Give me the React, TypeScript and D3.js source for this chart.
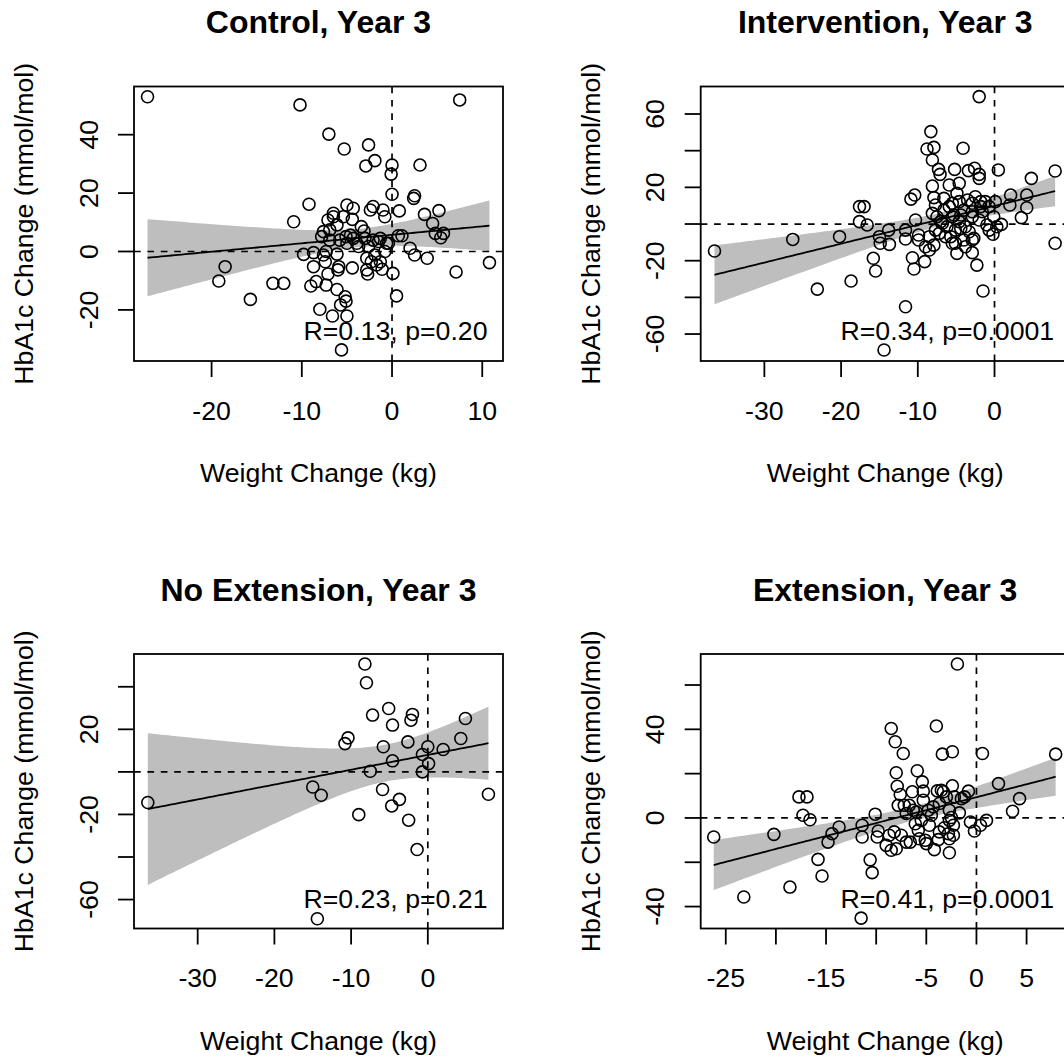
import { useEffect, useRef } from 'react'
import * as d3 from 'd3'

// weight change (kg) vs HbA1c change (mmol/mol)
const controlX = [
  -27.1, -10.2, 7.5, -7.0, -5.3, -2.6, -2.9, -1.9, 0.0, 3.1,
  -0.1, 0.0, 2.4, 2.5, -9.2, -10.9, 5.2, 3.6, 4.5, 4.8,
  5.7, 5.4, 10.8, 7.1, 3.9, 2.5, 2.0, 0.7, 1.1, 0.8,
  0.1, 0.5, -18.5, -19.2, -15.7, -13.2, -12.0, -9.8, -8.7, -8.7,
  -9.0, -8.4, -7.3, -8.0, -6.6, -6.1, -5.2, -5.1, -5.7, -5.0,
  -5.6, -6.0, -5.9, -4.4, -7.1, -7.4, -7.6, -7.3, -2.8, -2.7,
  -2.8, -1.3, -1.1, -1.9, -0.8, -3.7, -2.6, -1.5, -0.6, -3.9,
  -5.0, -4.6, -5.8, -6.9, -7.6, -6.9, -6.1, -7.1, -6.5, -6.5,
  -5.4, -4.4, -5.0, -4.3, -3.4, -3.1, -2.4, -2.1, -1.0, -0.8,
  -3.0, -2.1, -1.3, -0.4, -2.3, -1.7, -5.1, -4.3, -6.1, -7.8
]
const controlY = [
  53.0, 50.2, 51.9, 40.2, 35.1, 36.5, 29.3, 31.1, 29.6, 29.6,
  26.5, 19.6, 18.2, 19.1, 16.2, 10.2, 14.0, 12.7, 9.6, 6.2,
  6.2, 4.7, -3.8, -7.0, -2.3, -1.2, 1.1, 5.4, 5.4, 13.9,
  -7.5, -15.2, -5.2, -10.1, -16.4, -10.9, -10.9, -1.0, -0.4, -5.2,
  -11.8, -10.3, -11.5, -19.8, -22.1, -13.0, -15.5, -17.0, -18.3, -22.1,
  -33.7, -6.3, -5.2, -5.6, -7.7, -3.5, -1.2, 0.0, -6.3, -7.7,
  -2.3, -3.5, -6.1, -1.2, 0.0, 1.7, 1.7, 3.4, 2.8, 2.8,
  2.8, 5.6, 3.9, 3.9, 6.8, 7.4, 9.1, 10.8, 13.1, 11.9,
  11.9, 11.0, 15.9, 14.8, 8.5, 7.0, 14.2, 15.4, 14.2, 11.9,
  4.5, 3.9, 4.5, 2.8, -3.5, -4.6, 5.1, 4.5, -0.9, 5.1
]

const interventionX = [
  -36.5, -26.3, -23.1, -20.2, -18.7, -17.6, -17.0, -17.6, -16.6, -15.8,
  -15.5, -15.0, -14.9, -13.8, -13.7, -14.4, -11.6, -11.6, -11.6, -10.9,
  -10.4, -10.7, -10.5, -10.3, -9.9, -9.9, -9.1, -9.0, -8.3, -8.8,
  -7.9, -8.1, -7.3, -7.1, -8.1, -7.9, -7.7, -8.1, -7.5, -8.5,
  -8.5, -7.9, -7.2, -6.8, -6.6, -5.9, -5.2, -4.6, -4.1, -3.4,
  -2.6, -2.0, -2.0, -2.0, 0.5, -2.3, -1.5, -4.9, -3.8, -2.9,
  -2.9, -5.5, -5.7, -5.1, -4.6, -4.4, -5.5, -6.2, -5.5, -4.6,
  -3.5, -2.9, -2.5, -1.8, -1.2, -0.7, 0.1, -2.9, -2.0, -1.0,
  -0.1, 0.3, 0.9, -0.2, -0.7, 2.1, 2.0, 3.5, 4.2, 4.2,
  4.8, 7.9, 7.9, -3.3, -4.0, -2.7, -6.4, -5.1, -4.4, -3.8,
  -5.3, -4.0, -2.9, -5.9, -6.6, -7.0, -7.7, -1.6, -1.8, -4.9
]
const interventionY = [
  -14.7, -8.4, -35.5, -6.9, -31.1, 9.5, 9.5, 1.3, -0.5, -18.7,
  -25.6, -6.9, -10.5, -3.3, -11.1, -68.7, -45.1, -3.3, -8.2, 13.6,
  15.8, -18.4, -24.5, 2.2, -6.0, -8.7, -20.5, -12.4, 50.4, 40.9,
  41.8, 34.9, 29.8, 27.1, 20.7, 14.4, 10.4, 5.8, 4.0, -6.9,
  -14.2, -11.5, -5.1, 0.4, 7.6, 21.3, 29.8, 22.2, 41.3, 29.1,
  30.4, 27.1, 24.9, 69.5, 29.5, -22.4, -36.5, -16.0, -12.4, -15.6,
  -8.7, -10.5, -6.9, -3.3, 1.3, 4.9, 4.0, -1.5, 11.3, 12.2,
  13.1, 11.3, 14.9, 9.5, 12.2, 9.5, 12.2, 4.0, 2.2, -0.5,
  4.0, -1.5, -0.2, -5.6, -3.3, 15.8, 10.4, 3.5, 15.8, 8.9,
  24.9, 28.9, -10.5, -4.2, -8.7, -7.8, -6.9, -10.5, -2.4, -1.5,
  4.9, 7.6, 6.7, 9.5, 14.0, 1.3, -3.3, 6.7, 12.2, 16.7
]

const noExtX = [
  -36.5, -15.0, -13.9, -14.4, -10.8, -10.4, -9.0, -8.2, -8.0, -7.2,
  -7.5, -5.9, -5.8, -5.1, -4.6, -4.6, -4.7, -3.7, -2.6, -2.2,
  -2.0, -2.5, -1.4, -0.7, -0.7, 0.0, 0.1, 2.0, 4.3, 4.9, 7.9
]
const noExtY = [
  -14.4, -7.1, -11.0, -69.0, 13.3, 16.0, -20.1, 50.7, 41.9, 26.7,
  0.3, -8.3, 11.8, 29.8, 22.0, 5.2, -16.0, -12.9, 14.1, 24.3,
  27.0, -22.7, -36.5, 8.2, 0.0, 11.8, 3.9, 10.5, 15.7, 25.1, -10.5
]

const extX = [
  -26.2, -23.2, -20.2, -18.6, -17.7, -16.9, -17.3, -16.6, -15.8, -15.4,
  -14.8, -14.4, -13.7, -11.5, -11.4, -11.4, -10.6, -10.4, -10.1, -9.8,
  -9.9, -9.0, -8.7, -8.5, -8.1, -7.3, -8.0, -7.9, -7.6, -7.8,
  -7.2, -8.2, -8.5, -8.0, -7.5, -7.0, -7.0, -6.6, -6.4, -5.9,
  -5.4, -5.3, -5.3, -6.0, -6.1, -5.8, -5.7, -5.1, -5.0, -4.8,
  -4.5, -4.2, -4.0, -3.8, -3.9, -3.4, -3.3, -3.5, -3.0, -3.2,
  -2.8, -2.7, -2.7, -2.7, -2.7, -2.5, -2.4, -2.4, -1.9, -2.3,
  -1.7, -1.5, -0.8, -0.6, -0.2, 0.4, 1.0, 0.6, 2.2, 3.6,
  4.3, 7.9, -4.3, -3.7, -5.5, -4.7, -3.7, -2.3, -2.2, -1.2,
  -6.3, -6.7
]
const extY = [
  -8.6, -35.7, -7.4, -31.2, 9.5, 9.5, 1.2, -0.8, -18.7, -26.2,
  -10.9, -7.1, -4.1, -45.2, -3.3, -8.6, -18.9, -24.7, 1.7, -5.9,
  -8.6, -12.4, -7.8, 40.4, 34.4, 29.1, 20.4, 14.3, 10.6, 5.7,
  5.7, -6.3, -14.6, -13.9, -7.8, 2.0, -10.9, -10.9, 11.8, 21.3,
  16.3, 12.1, 8.0, 2.7, -2.6, -5.6, -9.4, -10.1, -11.6, 3.5,
  1.2, -14.3, 41.5, -9.8, 12.2, 28.8, 11.8, 12.5, 9.5, -4.4,
  -7.1, -9.4, -15.7, 3.5, -1.1, 0.2, 14.5, 29.9, 69.5, -7.8,
  2.3, 8.7, 12.1, -1.8, -5.9, -3.3, -1.1, 29.1, 15.5, 3.0,
  8.7, 28.8, 5.0, 6.5, -1.1, -3.3, -6.3, -3.3, 9.5, 9.5,
  3.5, 5.7
]

const titles = ['Control, Year 3', 'Intervention, Year 3', 'No Extension, Year 3', 'Extension, Year 3']
const statLabels = ['R=0.13, p=0.20', 'R=0.34, p=0.0001', 'R=0.23, p=0.21', 'R=0.41, p=0.0001']
const xLimits = [[-28.6, 12.3], [-38.3, 9.8], [-38.3, 9.8], [-27.5, 9.3]]
const yLimits = [[-37.5, 56.5], [-74.7, 75], [-73.6, 55.4], [-49.9, 74]]
const xTicks = [[-20, -10, 0, 10], [-30, -20, -10, 0], [-30, -20, -10, 0], [-25, -20, -15, -10, -5, 0, 5]]
const xTickLabels = [['-20', '-10', '0', '10'], ['-30', '-20', '-10', '0'], ['-30', '-20', '-10', '0'], ['-25', '', '-15', '', '-5', '0', '5']]
const yTicks = [[-20, 0, 20, 40], [-60, -40, -20, 0, 20, 40, 60], [-60, -40, -20, 0, 20, 40], [-40, -20, 0, 20, 40, 60]]
const yTickLabels = [['-20', '0', '20', '40'], ['-60', '', '-20', '', '20', '', '60'], ['-60', '', '-20', '', '20', ''], ['-40', '', '0', '', '40', '']]

const xsAll = [controlX, interventionX, noExtX, extX]
const ysAll = [controlY, interventionY, noExtY, extY]

// t quantile (0.975) via Cornish-Fisher expansion
function tQuant(df: number) {
  const z = 1.959964
  return z + (z ** 3 + z) / (4 * df) + (5 * z ** 5 + 16 * z ** 3 + 3 * z) / (96 * df * df) +
    (3 * z ** 7 + 19 * z ** 5 + 17 * z ** 3 - 15 * z) / (384 * df ** 3)
}

// lm fit + 95% confidence band over the observed x range
function fitBand(xs: number[], ys: number[]) {
  const n = xs.length
  const mx = d3.mean(xs) as number
  const my = d3.mean(ys) as number
  let sxx = 0, sxy = 0
  xs.forEach((x, i) => { sxx += (x - mx) ** 2; sxy += (x - mx) * (ys[i] - my) })
  const b = sxy / sxx
  const a = my - b * mx
  let rss = 0
  xs.forEach((x, i) => { rss += (ys[i] - a - b * x) ** 2 })
  const s = Math.sqrt(rss / (n - 2))
  const t = tQuant(n - 2)
  const [x0, x1] = d3.extent(xs) as [number, number]
  return d3.range(0, 101).map(k => {
    const x = x0 + (x1 - x0) * k / 100
    const yh = a + b * x
    const se = s * Math.sqrt(1 / n + (x - mx) ** 2 / sxx)
    return { x, yh, lo: yh - t * se, hi: yh + t * se }
  })
}

const W = 1064
const H = 1059
const plotW = 369
const plotH = 274.5
const fs = 26.7

export default function App() {
  const ref = useRef<SVGSVGElement>(null)

  useEffect(() => {
    const svg = d3.select(ref.current)
    svg.selectAll('*').remove()

    titles.forEach((title, i) => {
      const col = i % 2
      const row = Math.floor(i / 2)
      const left = 134 + col * 566.7
      const top = 86.5 + row * 567.5
      const bottom = top + plotH
      const right = left + plotW

      const x = d3.scaleLinear().domain(xLimits[i]).range([left, right])
      const y = d3.scaleLinear().domain(yLimits[i]).range([bottom, top])
      const xs = xsAll[i]
      const ys = ysAll[i]
      const g = svg.append('g')

      // confidence band
      const band = fitBand(xs, ys)
      g.append('path')
        .datum(band)
        .attr('d', d3.area<any>().x(d => x(d.x)).y0(d => y(d.lo)).y1(d => y(d.hi)))
        .attr('fill', '#bebebe')

      // points
      g.selectAll('circle.pt')
        .data(xs)
        .join('circle')
        .attr('cx', d => x(d))
        .attr('cy', (d, k) => y(ys[k]))
        .attr('r', 6)
        .attr('fill', 'none')
        .attr('stroke', '#000')
        .attr('stroke-width', 1.6)

      // fitted line
      g.append('path')
        .datum(band)
        .attr('d', d3.line<any>().x(d => x(d.x)).y(d => y(d.yh)))
        .attr('fill', 'none')
        .attr('stroke', '#000')
        .attr('stroke-width', 1.8)

      // stat text
      g.append('text')
        .attr('x', right - 15.5)
        .attr('y', bottom - 21)
        .attr('text-anchor', 'end')
        .style('font-size', fs + 'px')
        .text(statLabels[i])

      // reference lines at zero
      g.append('line')
        .attr('x1', left).attr('x2', right)
        .attr('y1', y(0)).attr('y2', y(0))
        .attr('stroke', '#000').attr('stroke-width', 1.7).attr('stroke-dasharray', '6.7 6.7')
      g.append('line')
        .attr('x1', x(0)).attr('x2', x(0))
        .attr('y1', top).attr('y2', bottom)
        .attr('stroke', '#000').attr('stroke-width', 1.7).attr('stroke-dasharray', '6.7 6.7')

      // box
      g.append('rect')
        .attr('x', left).attr('y', top)
        .attr('width', plotW).attr('height', plotH)
        .attr('fill', 'none').attr('stroke', '#000').attr('stroke-width', 1.8)

      // x axis
      const xt = xTicks[i]
      g.selectAll('line.xt')
        .data(xt)
        .join('line')
        .attr('x1', d => x(d)).attr('x2', d => x(d))
        .attr('y1', bottom).attr('y2', bottom + 16)
        .attr('stroke', '#000').attr('stroke-width', 1.8)
      g.selectAll('text.xt')
        .data(xt)
        .join('text')
        .attr('x', d => x(d))
        .attr('y', bottom + 58.5)
        .attr('text-anchor', 'middle')
        .style('font-size', fs + 'px')
        .text((d, k) => xTickLabels[i][k])

      // y axis
      const yt = yTicks[i]
      g.selectAll('line.yt')
        .data(yt)
        .join('line')
        .attr('x1', left - 16).attr('x2', left)
        .attr('y1', d => y(d)).attr('y2', d => y(d))
        .attr('stroke', '#000').attr('stroke-width', 1.8)
      g.selectAll('text.yt')
        .data(yt)
        .join('text')
        .attr('transform', d => `translate(${left - 36.5},${y(d)}) rotate(-90)`)
        .attr('text-anchor', 'middle')
        .style('font-size', fs + 'px')
        .text((d, k) => yTickLabels[i][k])

      // titles
      g.append('text')
        .attr('x', (left + right) / 2)
        .attr('y', top - 53.5)
        .attr('text-anchor', 'middle')
        .style('font-size', '32px')
        .style('font-weight', 'bold')
        .text(title)
      g.append('text')
        .attr('x', (left + right) / 2)
        .attr('y', bottom + 121)
        .attr('text-anchor', 'middle')
        .style('font-size', fs + 'px')
        .text('Weight Change (kg)')
      g.append('text')
        .attr('transform', `translate(${left - 101},${(top + bottom) / 2}) rotate(-90)`)
        .attr('text-anchor', 'middle')
        .style('font-size', fs + 'px')
        .text('HbA1c Change (mmol/mol)')
    })
  }, [])

  return (
    <div style={{ position: 'absolute', left: 0, top: 0, width: W, height: H, overflow: 'hidden', background: '#fff' }}>
      <svg
        ref={ref}
        width={W}
        height={H}
        style={{ display: 'block', fontFamily: '"Liberation Sans", Arial, sans-serif' }}
      />
    </div>
  )
}
